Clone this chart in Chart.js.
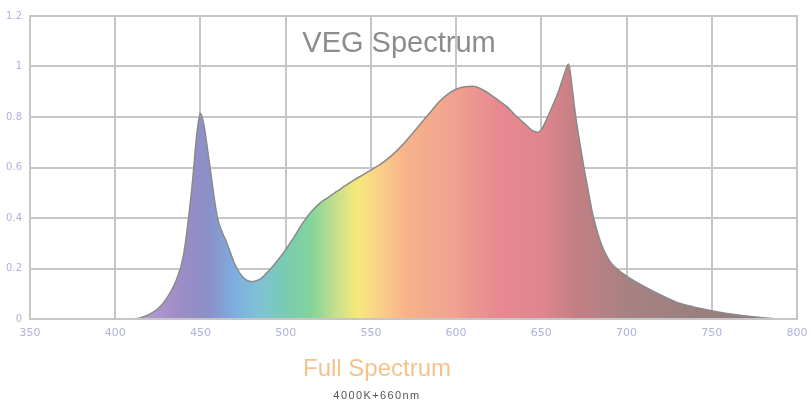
<!DOCTYPE html>
<html>
<head>
<meta charset="utf-8">
<script src="https://cdn.jsdelivr.net/npm/chart.js@4"></script>
<style>
  html, body { margin: 0; padding: 0; background: #fff; }
  #wrap { position: relative; width: 810px; height: 403px; }
  .txt { position: absolute; white-space: nowrap; line-height: 1; transform: translateX(-50%); font-family: 'Liberation Sans', Arial, sans-serif; }
  #veg { left: 399px; top: 28px; font-size: 29px; color: #8c8c8c; }
  #full { left: 377px; top: 356px; font-size: 24px; color: #f6c28c; }
  #sub { left: 377px; top: 390px; font-size: 11px; color: #555; letter-spacing: 1.4px; }
</style>
</head>
<body>
<div id="wrap">
  <canvas id="chart" width="810" height="403"></canvas>
  <div class="txt" id="veg">VEG Spectrum</div>
  <div class="txt" id="full">Full Spectrum</div>
  <div class="txt" id="sub">4000K+660nm</div>
</div>
<script>
// wavelength (nm) and relative intensity
const wavelengths = [410, 415, 420, 425, 430, 435, 440, 445, 448, 450, 452, 455, 460, 463, 465, 470, 475, 480, 485, 490,
  495, 500, 505, 510, 515, 520, 525, 530, 535, 540, 545, 550, 555, 560, 565, 570, 575, 580, 585, 590,
  595, 600, 605, 610, 615, 620, 625, 630, 635, 640, 645, 648, 650, 655, 660, 663, 666, 668, 670, 673,
  675, 678, 680, 685, 690, 695, 700, 710, 720, 730, 740, 750, 760, 770, 780, 788];
const intensity = [0, 0.005, 0.018, 0.04, 0.08, 0.14, 0.25, 0.52, 0.74, 0.815, 0.77, 0.63, 0.40, 0.34, 0.31, 0.22, 0.165, 0.148, 0.158, 0.19,
  0.23, 0.275, 0.325, 0.38, 0.425, 0.458, 0.482, 0.505, 0.528, 0.55, 0.57, 0.59, 0.61, 0.635, 0.665, 0.70, 0.74, 0.78, 0.82, 0.86,
  0.89, 0.91, 0.92, 0.922, 0.91, 0.89, 0.865, 0.84, 0.805, 0.775, 0.745, 0.74, 0.75, 0.82, 0.90, 0.96, 1.01, 0.92, 0.81, 0.68,
  0.60, 0.49, 0.42, 0.30, 0.23, 0.195, 0.17, 0.13, 0.095, 0.065, 0.047, 0.033, 0.021, 0.012, 0.005, 0];
const xTicks = [350, 400, 450, 500, 550, 600, 650, 700, 750, 800];
const yTicks = [0, 0.2, 0.4, 0.6, 0.8, 1, 1.2];

// rainbow colour stops for the fill, by wavelength
const colorStops = [
  [415, '#b99bd2'], [440, '#9a8cc4'], [455, '#8a90c8'], [470, '#7eaee0'], [485, '#80c2d6'],
  [500, '#78ccb0'], [515, '#82d49a'], [530, '#c8e08c'], [542, '#f6e87a'], [555, '#fad08a'],
  [570, '#f6b48a'], [600, '#f0a090'], [625, '#e88890'], [650, '#e0868e'], [670, '#c47f84'],
  [700, '#a88282'], [790, '#8c7c7c']
];

function spectrumFill(context) {
  const chart = context.chart;
  const {chartArea, scales} = chart;
  if (!chartArea) return '#e0a0a0';
  const x0 = scales.x.getPixelForValue(350);
  const x1 = scales.x.getPixelForValue(800);
  const g = chart.ctx.createLinearGradient(x0, 0, x1, 0);
  colorStops.forEach(([nm, c]) => g.addColorStop((nm - 350) / 450, c));
  return g;
}

const ctx = document.getElementById('chart');
new Chart(ctx, {
  type: 'line',
  data: {
    datasets: [{
      data: wavelengths.map((w, i) => ({x: w, y: intensity[i]})),
      fill: 'origin',
      backgroundColor: spectrumFill,
      borderColor: '#8a8a8a',
      borderWidth: 1.5,
      pointRadius: 0,
      tension: 0.4,
      cubicInterpolationMode: 'monotone',
    }]
  },
  options: {
    responsive: false,
    animation: false,
    layout: { padding: { left: 0, right: 13, top: 16, bottom: 64 } },
    plugins: { legend: { display: false }, tooltip: { enabled: false } },
    scales: {
      x: {
        type: 'linear',
        min: 350,
        max: 800,
        afterBuildTicks: (scale) => { scale.ticks = xTicks.map(v => ({value: v})); },
        afterFit: (scale) => { scale.height = 20; scale.paddingRight = 0; scale.paddingLeft = 0; },
        grid: { color: '#c6c6c6', lineWidth: 2, drawTicks: false },
        border: { color: '#c6c6c6', width: 2 },
        ticks: { color: '#b0b0dc', padding: 8, maxRotation: 0, font: { family: 'DejaVu Sans', size: 11 } },
      },
      y: {
        min: 0,
        max: 1.2,
        afterBuildTicks: (scale) => { scale.ticks = yTicks.map(v => ({value: v})); },
        afterFit: (scale) => { scale.width = 30; },
        grid: { color: '#c6c6c6', lineWidth: 2, drawTicks: false },
        border: { color: '#c6c6c6', width: 2 },
        ticks: { color: '#b0b0dc', padding: 8, font: { family: 'DejaVu Sans', size: 10 },
          callback: (v) => String(Number(v.toFixed(1))) },
      },
    },
  },
  plugins: [{
    // right and top frame lines
    afterDraw(chart) {
      const {ctx, chartArea: {left, top, right, bottom}} = chart;
      ctx.save();
      ctx.strokeStyle = '#c6c6c6';
      ctx.lineWidth = 2;
      ctx.strokeRect(left, top, right - left, bottom - top);
      ctx.restore();
    }
  }],
});
</script>
</body>
</html>
